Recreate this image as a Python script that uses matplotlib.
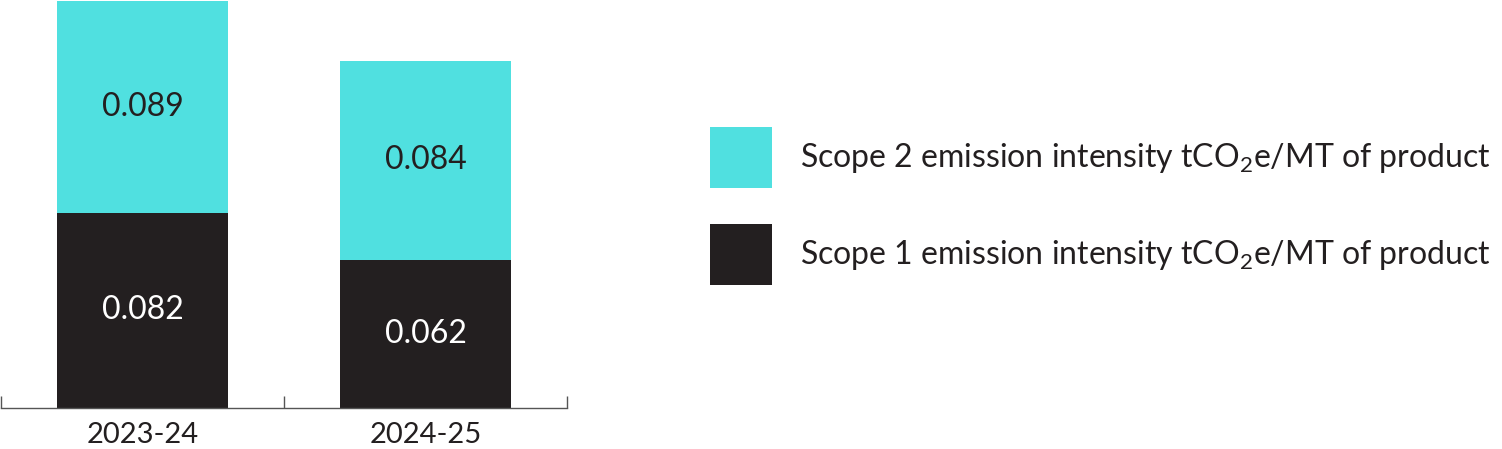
import matplotlib
matplotlib.use("Agg")
import matplotlib.pyplot as plt
from matplotlib.patches import Patch

plt.rcParams['font.family'] = ['Lato', 'DejaVu Sans']
plt.rcParams['mathtext.default'] = 'regular'

years = ["2023-24", "2024-25"]
scope1 = [0.082, 0.062]
scope2 = [0.089, 0.084]
scope1_labels = ["0.082", "0.062"]
scope2_labels = ["0.089", "0.084"]
series_names = ["Scope 2 emission intensity tCO$_2$e/MT of product",
                "Scope 1 emission intensity tCO$_2$e/MT of product"]

CYAN = "#50E0E0"
DARK = "#231F20"

fig = plt.figure(figsize=(15.02, 4.49), dpi=100)
ax = fig.add_axes([1/1502, 1 - 408/449, 566/1502, 407/449])

x = list(range(len(years)))
w = 0.605
ax.bar(x, scope1, width=w, color=DARK)
ax.bar(x, scope2, width=w, bottom=scope1, color=CYAN)

for i in x:
    ax.text(i, scope1[i] / 2, scope1_labels[i], ha='center', va='center',
            color='white', fontsize=23)
    ax.text(i, scope1[i] + scope2[i] / 2, scope2_labels[i], ha='center', va='center',
            color=DARK, fontsize=23)

tot = [a + b for a, b in zip(scope1, scope2)]
ax.set_ylim(0, max(tot))
ax.set_xlim(-0.5, len(years) - 0.5)
for s in ['top', 'right', 'left']:
    ax.spines[s].set_visible(False)
ax.spines['bottom'].set_color('#555555')
ax.spines['bottom'].set_linewidth(1.0)
ax.set_yticks([])
ax.set_xticks(x)
ax.set_xticklabels(years, fontsize=21, color=DARK)
ax.tick_params(axis='x', which='major', length=0, pad=10)
ax.set_xticks([i - 0.5 for i in range(len(years) + 1)], minor=True)
ax.tick_params(axis='x', which='minor', direction='in', length=9, width=1.0, color='#555555')

handles = [Patch(facecolor=CYAN, edgecolor='none'), Patch(facecolor=DARK, edgecolor='none')]
fig.legend(handles, series_names, loc='center left',
           bbox_to_anchor=(710/1502, 1 - 206/449), frameon=False,
           fontsize=23, handlelength=1.94, handleheight=2.57,
           labelspacing=1.13, handletextpad=0.88, borderpad=0, borderaxespad=0,
           labelcolor=DARK)

fig.savefig("out.png", dpi=100)
